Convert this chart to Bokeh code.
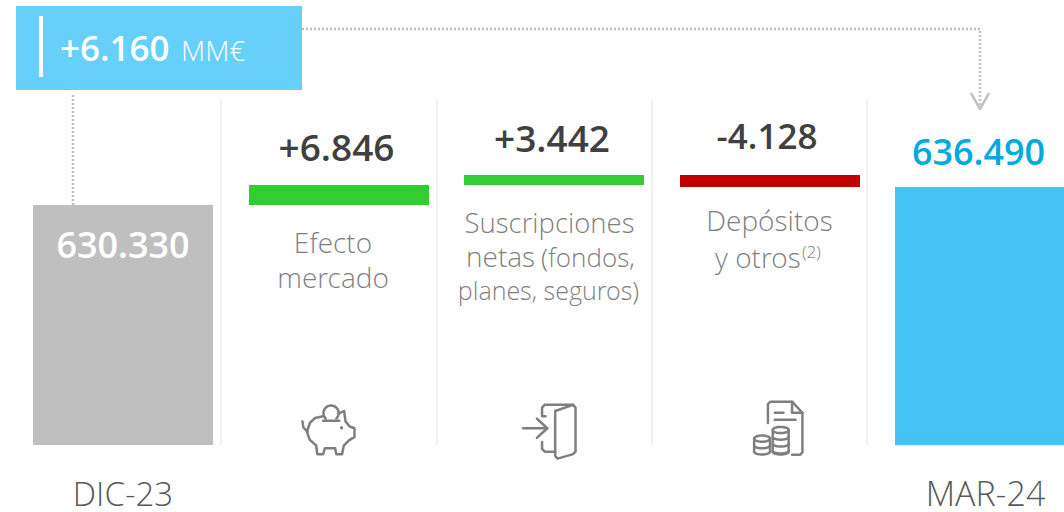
import numpy as np
from bokeh.plotting import figure
from bokeh.models import Range1d
from bokeh.core.properties import value
from bokeh.embed import file_html
from bokeh.resources import INLINE

# ---- data ----
start_label, end_label = "DIC-23", "MAR-24"
start_value, end_value = 630330, 636490
total_change = "+6.160"
steps = [6846, 3442, -4128]
step_labels = ["+6.846", "+3.442", "-4.128"]
total_labels = ["630.330", "636.490"]
captions = [["Efecto", "mercado"], ["Suscripciones", "netas (fondos,", "planes, seguros)"], ["Depósitos", "y otros"]]

# ---- layout ----
W, H = 1064, 512
PER_PX = 342.2
px_b, px_t = 512.5, 0.5
def v(y): return start_value + (205 - y) * PER_PX

p = figure(width=W, height=H, output_backend="svg", toolbar_location=None,
           x_range=Range1d(0.5, 1064.5), y_range=Range1d(v(px_b), v(px_t)),
           min_border=0, outline_line_color=None, background_fill_color="white")
p.extra_y_ranges = {"px": Range1d(px_b, px_t)}
p.axis.visible = False
p.grid.visible = False

LIGHT = "Open Sans Light"
SEMI = "Open Sans SemiBold"
base = v(445)

def T(x, y, s, size, color, font=SEMI, align="center"):
    p.text([x], [y], text=[s], y_range_name="px", text_font=value(font), text_font_size=f"{size}px",
           text_color=color, text_align=align, text_baseline="middle")

def L(xs, ys, color="#7f7f7f", w=2, dash="solid", cap="round"):
    p.line(xs, ys, y_range_name="px", line_color=color, line_width=w, line_dash=dash, line_cap=cap, line_join="round")

# separators
for x in [221, 437, 652, 867]:
    L([x, x], [100, 445], "#f0f0f0", 2, cap="butt")

# total bars
p.quad(left=[33], right=[213], bottom=[base], top=[start_value], fill_color="#bfbfbf", line_color=None)
p.quad(left=[895], right=[1075], bottom=[base], top=[end_value], fill_color="#45c3f5", line_color=None)

# waterfall steps
lefts = [249, 464, 680]
running = start_value
for l, d in zip(lefts, steps):
    lo, hi = sorted([running, running + d])
    p.quad(left=[l], right=[l + 180], bottom=[lo], top=[hi],
           fill_color="#33cc33" if d > 0 else "#c00000", line_color=None)
    running += d

# header box
p.quad(left=[16], right=[302], bottom=[v(90)], top=[v(6)], fill_color="#66cffa", line_color=None)
L([41, 41], [16, 77], "white", 4, cap="butt")
T(60, 48, total_change, 35, "white", align="left")
T(181, 50, "MM€", 28, "white", LIGHT, "left")

# dotted connectors
DOT = "#bfbfbf"
L([73, 73], [95, 205], DOT, 2.5, "2 2", "butt")
L([302, 980, 980], [29, 29, 108], DOT, 2.5, "2 2", "butt")
L([971, 980, 989], [93, 109, 93], DOT, 2.5, cap="butt")

# labels
T(123, 245, total_labels[0], 36, "white")
T(978.5, 152, total_labels[1], 36, "#00a9e0")
T(336.5, 148, step_labels[0], 37, "#404040")
T(552, 139, step_labels[1], 37, "#404040")
T(767, 136, step_labels[2], 35, "#404040")
T(123, 493, start_label, 33, "#595959", LIGHT)
T(985.5, 493, end_label, 34, "#595959", LIGHT)

GREY = "#7f7f7f"
T(333, 242, captions[0][0], 28, GREY, LIGHT)
T(333, 277, captions[0][1], 28, GREY, LIGHT)
T(549.5, 222, captions[1][0], 27.5, GREY, LIGHT)
T(466, 256, "netas", 28, GREY, LIGHT, "left")
T(541, 257, "(fondos,", 26, GREY, LIGHT, "left")
T(548.5, 290, captions[1][2], 25, GREY, LIGHT)
T(769.5, 220, captions[2][0], 28, GREY, LIGHT)
T(715, 257, captions[2][1], 28, GREY, LIGHT, "left")
T(802, 251, "(2)", 17, GREY, LIGHT, "left")

# icons (outlines in zoomed reference units, origin 280,380, scale 2.9)
def Z(pts, color="#7f7f7f", w=2.5):
    a = np.array(pts, float)
    L(a[:, 0] / 2.9 + 280, a[:, 1] / 2.9 + 380, color, w)
def E(cx, cy, rx, ry, t0=0, t1=2 * np.pi):
    t = np.linspace(t0, t1, 40)
    Z(np.c_[cx + rx * np.cos(t), cy + ry * np.sin(t)])

# piggy
Z([(125,105),(102,110),(87,124),(78,150),(86,173),(105,190),(108,215),(125,215),(130,198),(160,198),(163,215),(180,215),(185,190),(200,175),(216,165),(216,140),(202,135),(190,120),(186,90),(170,97)])
Z([(65,120),(68,138),(80,150)])
E(148, 96, 22, 22, np.pi * 0.75, np.pi * 2.25)
Z([(125,118),(172,118)])
Z([(178,138),(179,139)], w=3)
# door
Z([(770,105),(760,105),(760,80),(767,72),(850,72)])
Z([(798,90),(850,72),(857,80),(857,208),(850,215),(805,228),(798,220),(798,90)])
Z([(760,180),(760,200),(768,208),(798,208)])
Z([(705,140),(775,140)])
Z([(745,112),(775,140),(745,168)])
# document and coins
Z([(1415,125),(1415,70),(1422,63),(1485,63),(1515,95),(1515,210),(1508,217),(1485,217)])
Z([(1485,63),(1485,95),(1515,95)])
Z([(1435,95),(1460,95)])
Z([(1435,115),(1495,115)])
for cx, top in [(1452, 145), (1398, 170)]:
    E(cx, top, 23, 9)
    Z([(cx - 23, top), (cx - 23, 208)])
    Z([(cx + 23, top), (cx + 23, 208)])
    for y in np.arange(top + 20, 209, 20):
        E(cx, y, 23, 8, 0, np.pi)
    E(cx, 208, 23, 8, 0, np.pi)

open("out.html", "w").write(file_html(p, INLINE))
